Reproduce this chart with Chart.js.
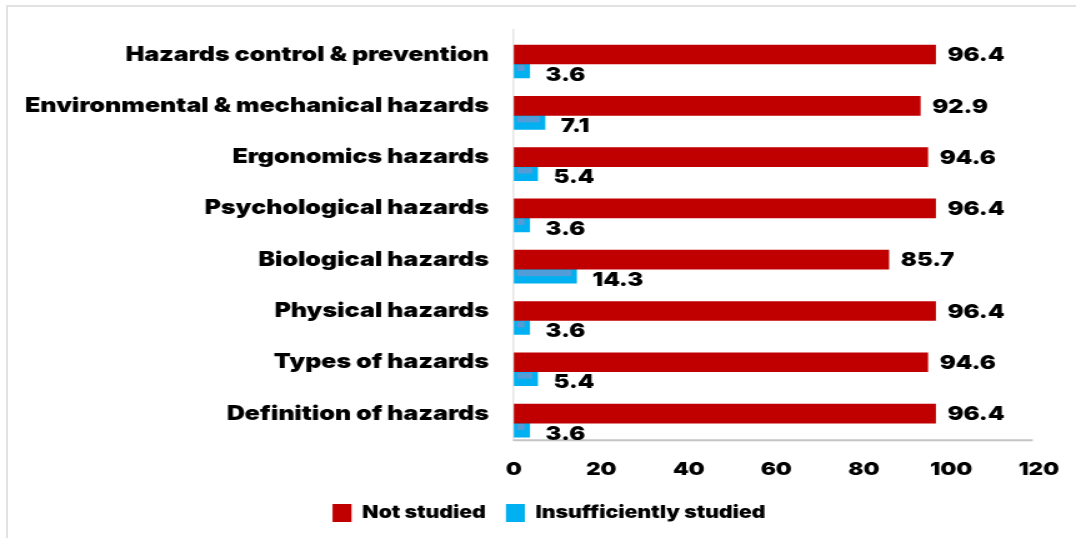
<!DOCTYPE html>
<html lang="en">
  <head>
    <meta charset="UTF-8" />
    <title>Hazards topics</title>
    <script src="https://cdn.jsdelivr.net/npm/chart.js"></script>
    <style>
      body {
        margin: 0;
        background: #fff;
      }
      .wrap {
        position: relative;
        width: 1076px;
        height: 538px;
        overflow: hidden;
      }
      .frame {
        position: absolute;
        left: 6px;
        top: 5px;
        right: -10px;
        bottom: -10px;
        border: 2px solid #e2e2e2;
      }
      /* drawn narrow and widened, so the heavy type gets a broad face */
      .stretch {
        position: absolute;
        left: 0;
        top: 0;
        width: 861px;
        height: 538px;
        transform: scaleX(1.2497);
        transform-origin: 0 0;
      }
    </style>
  </head>
  <body>
    <div class="wrap">
      <div class="frame"></div>
      <div class="stretch">
        <canvas id="hazardsChart"></canvas>
      </div>
    </div>

    <script>
      const categories = [
        "Hazards control & prevention",
        "Environmental & mechanical hazards",
        "Ergonomics hazards",
        "Psychological hazards",
        "Biological hazards",
        "Physical hazards",
        "Types of hazards",
        "Definition of hazards",
      ];
      const notStudied = [96.4, 92.9, 94.6, 96.4, 85.7, 96.4, 94.6, 96.4];
      const insufficientlyStudied = [3.6, 7.1, 5.4, 3.6, 14.3, 3.6, 5.4, 3.6];
      const xTicks = [0, 20, 40, 60, 80, 100, 120];

      const FONT = "Inter, 'DejaVu Sans', sans-serif";
      Chart.defaults.font.family = FONT;
      Chart.defaults.font.weight = 900;
      Chart.defaults.color = "#000";

      // let the long category names run left of the y axis box
      const labelRoom = {
        id: "labelRoom",
        afterLayout(chart) {
          chart.scales.y.left = 0;
        },
      };

      // axis lines sit half a red bar above the category bands
      const axisLines = {
        id: "axisLines",
        beforeDatasetsDraw(chart) {
          const { ctx, chartArea } = chart;
          const shift = 9.5;
          ctx.save();
          ctx.strokeStyle = "#d0d0d0";
          ctx.lineWidth = 0.8;
          ctx.beginPath();
          ctx.moveTo(chartArea.left - 0.4, chartArea.top - shift);
          ctx.lineTo(chartArea.left - 0.4, chartArea.bottom - shift);
          ctx.stroke();
          ctx.strokeStyle = "#c4c4c4";
          ctx.lineWidth = 2;
          ctx.beginPath();
          ctx.moveTo(chartArea.left - 0.8, chartArea.bottom - shift + 1);
          ctx.lineTo(chartArea.right - 4.8, chartArea.bottom - shift + 1);
          ctx.stroke();
          ctx.restore();
        },
      };

      // value labels to the right of each bar, plus the faint inner stripe on blue bars
      const barValues = {
        id: "barValues",
        afterDatasetsDraw(chart) {
          const ctx = chart.ctx;
          ctx.save();
          chart.getDatasetMeta(1).data.forEach((bar) => {
            const w = bar.x - bar.base - 6.4;
            if (w > 0) {
              ctx.fillStyle = "rgba(91, 155, 213, 0.9)";
              ctx.fillRect(bar.base + 2.4, bar.y - bar.height / 2 + 1, w, 6);
            }
          });
          ctx.font = "900 19px " + FONT;
          ctx.fillStyle = "#000";
          ctx.textAlign = "left";
          ctx.textBaseline = "middle";
          chart.data.datasets.forEach((ds, i) => {
            const meta = chart.getDatasetMeta(i);
            meta.data.forEach((bar, j) => {
              const dx = i === 0 ? 9.6 : 12.8;
              const dy = i === 0 ? 1 : 4;
              ctx.fillText(ds.data[j].toFixed(1), bar.x + dx, bar.y + dy);
            });
          });
          ctx.restore();
        },
      };

      const ctx = document.getElementById("hazardsChart").getContext("2d");
      const hazardsChart = new Chart(ctx, {
        type: "bar",
        data: {
          labels: categories,
          datasets: [
            {
              label: "Not studied",
              data: notStudied,
              backgroundColor: "#C00000",
              barThickness: 19,
            },
            {
              label: "Insufficiently studied",
              data: insufficientlyStudied,
              backgroundColor: "#00B0F0",
              barThickness: 14,
            },
          ],
        },
        options: {
          indexAxis: "y",
          responsive: true,
          maintainAspectRatio: false,
          animation: false,
          layout: {
            padding: { left: 47.4, right: 29.8, top: 38.4, bottom: 6 },
          },
          scales: {
            x: {
              min: xTicks[0],
              max: xTicks[xTicks.length - 1],
              afterBuildTicks: (axis) => {
                axis.ticks = xTicks.map((v) => ({ value: v }));
              },
              afterFit: (axis) => {
                axis.height = 39.3;
              },
              grid: { display: false, drawTicks: false },
              border: { display: false },
              ticks: {
                padding: 10,
                font: { size: 18, weight: 900 },
                color: "#000",
              },
            },
            y: {
              afterFit: (axis) => {
                axis.width = 363.8;
              },
              grid: { display: false, drawTicks: false },
              border: { display: false },
              ticks: {
                padding: 20,
                labelOffset: -9.5,
                autoSkip: false,
                font: { size: 20, weight: 900 },
                color: "#000",
              },
            },
          },
          plugins: {
            legend: {
              position: "bottom",
              labels: {
                boxWidth: 15.2,
                boxHeight: 18,
                padding: 16,
                font: { size: 17, weight: 900 },
                color: "#000",
              },
            },
            tooltip: { enabled: false },
          },
        },
        plugins: [labelRoom, axisLines, barValues],
      });
    </script>
  </body>
</html>
